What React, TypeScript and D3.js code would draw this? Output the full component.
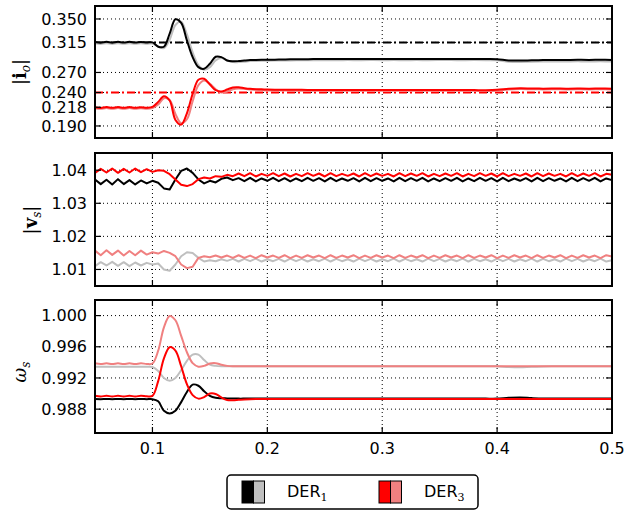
import React from "react";
import * as d3 from "d3";

// time grids (s)
const tCoarse = [
  ...d3.range(31).map((i) => 0.05 + i * 0.005),
  ...d3.range(30).map((i) => 0.21 + i * 0.01),
];
const tFine = d3.range(91).map((i) => 0.05 + i * 0.005);

const xTicks = [0.1, 0.2, 0.3, 0.4, 0.5];

// |i_o|
const ioTicks = [0.35, 0.315, 0.27, 0.24, 0.218, 0.19];
const ioRefs = [0.315, 0.24];
const ioDer1 = [
  0.3155, 0.3145, 0.3158, 0.3146, 0.3158, 0.3147, 0.3158, 0.3147, 0.3157, 0.3148, 0.315,
  0.3085, 0.3085, 0.328, 0.3495, 0.344, 0.318, 0.293, 0.278, 0.2755, 0.283, 0.2935, 0.293, 0.288, 0.2868, 0.287, 0.2878, 0.2885, 0.2888, 0.289, 0.289,
  0.2893, 0.2896, 0.2898, 0.29, 0.2901, 0.29, 0.2902, 0.2901, 0.2902, 0.29, 0.2902, 0.2901, 0.2902, 0.29, 0.2901, 0.2902, 0.29, 0.2901, 0.29, 0.2898,
  0.288, 0.2878, 0.2882, 0.2886, 0.2888, 0.2887, 0.2889, 0.2888, 0.2889, 0.2888,
];
const ioDer1Light = [
  0.3135, 0.3127, 0.3137, 0.3127, 0.3137, 0.3128, 0.3136, 0.3128, 0.3136, 0.3129, 0.3132,
  0.309, 0.3065, 0.319, 0.341, 0.346, 0.327, 0.3, 0.281, 0.274, 0.278, 0.288, 0.2915, 0.288, 0.2855, 0.2855, 0.2862, 0.287, 0.2873, 0.2875, 0.2876,
  0.2878, 0.288, 0.2882, 0.2883, 0.2884, 0.2883, 0.2885, 0.2884, 0.2885, 0.2884, 0.2885, 0.2884, 0.2885, 0.2884, 0.2885, 0.2885, 0.2884, 0.2885, 0.2884, 0.2882,
  0.2862, 0.2858, 0.286, 0.2863, 0.2865, 0.2864, 0.2866, 0.2865, 0.2866, 0.2865,
];
const ioDer3 = [
  0.218, 0.217, 0.2183, 0.2171, 0.2183, 0.2172, 0.2182, 0.2172, 0.2181, 0.2174, 0.2185,
  0.226, 0.2345, 0.228, 0.199, 0.192, 0.209, 0.238, 0.259, 0.2605, 0.252, 0.2435, 0.2415, 0.2445, 0.2475, 0.2478, 0.2465, 0.2455, 0.245, 0.2448, 0.2445,
  0.2442, 0.244, 0.244, 0.2439, 0.2438, 0.2439, 0.2438, 0.2437, 0.2438, 0.2437, 0.2438, 0.2437, 0.2436, 0.2437, 0.2436, 0.2437, 0.2436, 0.2436, 0.2435, 0.244,
  0.2455, 0.2463, 0.246, 0.2458, 0.2459, 0.2458, 0.2459, 0.2458, 0.2459, 0.2458,
];
const ioDer3Light = [
  0.2165, 0.2157, 0.2168, 0.2156, 0.2168, 0.2157, 0.2167, 0.2157, 0.2166, 0.2158, 0.2168,
  0.222, 0.2315, 0.229, 0.208, 0.194, 0.2, 0.227, 0.251, 0.258, 0.253, 0.245, 0.24, 0.2415, 0.2448, 0.246, 0.2455, 0.2447, 0.244, 0.2435, 0.2432,
  0.243, 0.2428, 0.2428, 0.2427, 0.2427, 0.2426, 0.2427, 0.2426, 0.2426, 0.2426, 0.2425, 0.2426, 0.2425, 0.2425, 0.2426, 0.2425, 0.2425, 0.2425, 0.2424, 0.2428,
  0.2445, 0.2452, 0.2449, 0.2447, 0.2448, 0.2447, 0.2448, 0.2447, 0.2448, 0.2447,
];

// |v_s|
const vsTicks = [1.04, 1.03, 1.02, 1.01];
const vsDer1 = [
  1.0372, 1.0358, 1.0371, 1.0357, 1.0373, 1.0358, 1.037, 1.0357, 1.0369, 1.036,
  1.0368, 1.0362, 1.0345, 1.0342, 1.0372, 1.0398, 1.0405, 1.0392, 1.0372, 1.036, 1.0368, 1.0363, 1.0374, 1.0378, 1.037,
  1.0376, 1.0367, 1.0377, 1.0366, 1.0375, 1.0368, 1.0377, 1.0367, 1.0376, 1.0366,
  1.0375, 1.0367, 1.0377, 1.0368, 1.0376, 1.0366, 1.0377, 1.0367, 1.0375, 1.0368,
  1.0376, 1.0366, 1.0377, 1.0367, 1.0376, 1.0368, 1.0375, 1.0366, 1.0377, 1.0367,
  1.0376, 1.0368, 1.0377, 1.0366, 1.0375, 1.0367, 1.0376, 1.0368, 1.0377, 1.0366,
  1.0375, 1.0367, 1.0377, 1.0368, 1.0376, 1.0366, 1.0377, 1.0367, 1.0375, 1.0368,
  1.0376, 1.0366, 1.0377, 1.0367, 1.0376, 1.0368, 1.0375, 1.0366, 1.0377, 1.0367,
  1.0376, 1.0368, 1.0377, 1.0366, 1.0375, 1.037,
];
const vsDer1Light = [
  1.011, 1.0122, 1.0112, 1.0123, 1.0111, 1.0122, 1.011, 1.0121, 1.0112, 1.012,
  1.0115, 1.0118, 1.01, 1.0096, 1.0115, 1.014, 1.0152, 1.015, 1.0135, 1.0124, 1.0128, 1.0125, 1.0131, 1.0126, 1.0132,
  1.0124, 1.0132, 1.0125, 1.0133, 1.0124, 1.0131, 1.0125, 1.0132, 1.0124, 1.0133,
  1.0125, 1.0132, 1.0124, 1.0131, 1.0125, 1.0133, 1.0124, 1.0132, 1.0125, 1.0131,
  1.0124, 1.0133, 1.0125, 1.0132, 1.0124, 1.0131, 1.0125, 1.0133, 1.0124, 1.0132,
  1.0125, 1.0131, 1.0124, 1.0133, 1.0125, 1.0132, 1.0124, 1.0131, 1.0125, 1.0133,
  1.0124, 1.0132, 1.0125, 1.0131, 1.0124, 1.0133, 1.0125, 1.0132, 1.0124, 1.0131,
  1.0125, 1.0133, 1.0124, 1.0132, 1.0125, 1.0131, 1.0124, 1.0133, 1.0125, 1.0132,
  1.0124, 1.0131, 1.0125, 1.0133, 1.0124, 1.0128,
];
const vsDer3 = [
  1.0392, 1.0404, 1.0393, 1.0405, 1.0392, 1.0404, 1.0393, 1.0405, 1.0394, 1.0403,
  1.0395, 1.04, 1.0398, 1.0388, 1.0372, 1.0356, 1.0352, 1.0358, 1.0373, 1.0378, 1.0375, 1.0382, 1.038, 1.0386, 1.0382,
  1.039, 1.0382, 1.0391, 1.0381, 1.0389, 1.0383, 1.0391, 1.0382, 1.039, 1.0381,
  1.0389, 1.0382, 1.0391, 1.0383, 1.039, 1.0381, 1.0391, 1.0382, 1.0389, 1.0383,
  1.039, 1.0381, 1.0391, 1.0382, 1.039, 1.0383, 1.0389, 1.0381, 1.0391, 1.0382,
  1.039, 1.0383, 1.0391, 1.0381, 1.0389, 1.0382, 1.039, 1.0383, 1.0391, 1.0381,
  1.0389, 1.0382, 1.0391, 1.0383, 1.039, 1.0381, 1.0391, 1.0382, 1.0389, 1.0383,
  1.039, 1.0381, 1.0391, 1.0382, 1.039, 1.0383, 1.0389, 1.0381, 1.0391, 1.0382,
  1.039, 1.0383, 1.0391, 1.0381, 1.0389, 1.0386,
];
const vsDer3Light = [
  1.0157, 1.0143, 1.0158, 1.0144, 1.0157, 1.0142, 1.0156, 1.0143, 1.0157, 1.0145,
  1.0152, 1.0148, 1.0156, 1.015, 1.014, 1.0115, 1.0104, 1.0108, 1.0135, 1.014, 1.0137, 1.0142, 1.0136, 1.0142, 1.0135,
  1.0143, 1.0135, 1.0142, 1.0134, 1.0143, 1.0136, 1.0142, 1.0135, 1.0143, 1.0134,
  1.0142, 1.0135, 1.0143, 1.0136, 1.0142, 1.0134, 1.0143, 1.0135, 1.0142, 1.0136,
  1.0143, 1.0134, 1.0142, 1.0135, 1.0143, 1.0136, 1.0142, 1.0134, 1.0143, 1.0135,
  1.0142, 1.0136, 1.0143, 1.0134, 1.0142, 1.0135, 1.0143, 1.0136, 1.0142, 1.0134,
  1.0143, 1.0135, 1.0142, 1.0136, 1.0143, 1.0134, 1.0142, 1.0135, 1.0143, 1.0136,
  1.0142, 1.0134, 1.0143, 1.0135, 1.0142, 1.0136, 1.0143, 1.0134, 1.0142, 1.0135,
  1.0143, 1.0136, 1.0142, 1.0134, 1.0143, 1.0139,
];

// omega_s
const wsTicks = [1.0, 0.996, 0.992, 0.988];
const wsDer1 = [
  0.9893, 0.98928, 0.9893, 0.98928, 0.9893, 0.98928, 0.9893, 0.98928, 0.9893, 0.98928, 0.98928,
  0.989, 0.9878, 0.98745, 0.9878, 0.9889, 0.9902, 0.99115, 0.991, 0.9903, 0.9897, 0.98945, 0.9894, 0.98938, 0.98936, 0.98935, 0.98935, 0.98935, 0.98935, 0.98935, 0.98935,
  0.98935, 0.98935, 0.98935, 0.98935, 0.98935, 0.98935, 0.98935, 0.98935, 0.98935, 0.98935, 0.98935, 0.98935, 0.98935, 0.98935, 0.98935, 0.98935, 0.98935, 0.98935, 0.98935, 0.98935,
  0.98945, 0.9895, 0.98942, 0.98936, 0.98935, 0.98935, 0.98935, 0.98935, 0.98935, 0.98935,
];
const wsDer1Light = [
  0.99345, 0.99343, 0.99345, 0.99343, 0.99345, 0.99343, 0.99345, 0.99343, 0.99345, 0.99343, 0.9934,
  0.9929, 0.992, 0.99165, 0.992, 0.993, 0.9942, 0.995, 0.995, 0.9943, 0.9937, 0.99355, 0.9935, 0.9935, 0.9935, 0.9935, 0.9935, 0.9935, 0.9935, 0.9935, 0.9935,
  0.9935, 0.9935, 0.9935, 0.9935, 0.9935, 0.9935, 0.9935, 0.9935, 0.9935, 0.9935, 0.9935, 0.9935, 0.9935, 0.9935, 0.9935, 0.9935, 0.9935, 0.9935, 0.9935, 0.9935,
  0.9934, 0.99336, 0.99344, 0.99348, 0.9935, 0.9935, 0.9935, 0.9935, 0.9935, 0.9935,
];
const wsDer3 = [
  0.98972, 0.98962, 0.98972, 0.98962, 0.98972, 0.98962, 0.98972, 0.98962, 0.98972, 0.98965, 0.9897,
  0.9916, 0.9945, 0.99595, 0.9955, 0.9935, 0.9912, 0.9898, 0.98935, 0.98955, 0.99, 0.98995, 0.9895, 0.98918, 0.98915, 0.9892, 0.98925, 0.98928, 0.9893, 0.9893, 0.9893,
  0.9893, 0.9893, 0.9893, 0.9893, 0.9893, 0.9893, 0.9893, 0.9893, 0.9893, 0.9893, 0.9893, 0.9893, 0.9893, 0.9893, 0.9893, 0.9893, 0.9893, 0.9893, 0.9893, 0.9893,
  0.9893, 0.9893, 0.9893, 0.9893, 0.9893, 0.9893, 0.9893, 0.9893, 0.9893, 0.9893,
];
const wsDer3Light = [
  0.99388, 0.99378, 0.99388, 0.99378, 0.99388, 0.99378, 0.99388, 0.99378, 0.99388, 0.9938, 0.99385,
  0.9955, 0.9985, 0.99995, 0.9994, 0.9974, 0.9953, 0.9939, 0.99345, 0.99355, 0.99385, 0.9939, 0.9937, 0.99355, 0.9935, 0.9935, 0.9935, 0.9935, 0.9935, 0.9935, 0.9935,
  0.9935, 0.9935, 0.9935, 0.9935, 0.9935, 0.9935, 0.9935, 0.9935, 0.9935, 0.9935, 0.9935, 0.9935, 0.9935, 0.9935, 0.9935, 0.9935, 0.9935, 0.9935, 0.9935, 0.9935,
  0.9935, 0.9935, 0.9935, 0.9935, 0.9935, 0.9935, 0.9935, 0.9935, 0.9935, 0.9935,
];

const legendNames = ["1", "3"];

const BLACK = "#000000";
const GRAY = "#bfbfbf";
const RED = "#ff0000";
const LIGHTRED = "#f08080";

const L = 95;
const R = 612;
const x = d3.scaleLinear().domain([0.05, 0.5]).range([L, R]);

type Series = { t: number[]; v: number[]; color: string };

function Panel(props: {
  top: number;
  bottom: number;
  domain: [number, number];
  ticks: number[];
  fmt: (d: number) => string;
  series: Series[];
  refs?: { v: number; color: string }[];
  curve: d3.CurveFactory;
  showX: boolean;
  label: React.ReactNode;
}) {
  const { top, bottom, domain, ticks, fmt, series, refs, curve, showX, label } = props;
  const y = d3.scaleLinear().domain(domain).range([bottom, top]);
  const line = d3
    .line<[number, number]>()
    .x((d) => x(d[0]))
    .y((d) => y(d[1]))
    .curve(curve);
  const tk = 6;
  return (
    <g>
      {/* grid */}
      {xTicks.slice(0, -1).map((t) => (
        <line key={"gx" + t} x1={x(t)} x2={x(t)} y1={top} y2={bottom} stroke="#000" strokeWidth={1} strokeDasharray="1,3" />
      ))}
      {ticks.map((v) => (
        <line key={"gy" + v} x1={L} x2={R} y1={y(v)} y2={y(v)} stroke="#000" strokeWidth={1} strokeDasharray="1,3" />
      ))}
      {refs &&
        refs.map((r) => (
          <line key={"r" + r.v} x1={L} x2={R} y1={y(r.v)} y2={y(r.v)} stroke={r.color} strokeWidth={2} strokeDasharray="8,3,2,3" />
        ))}
      {series.map((s, i) => (
        <path
          key={i}
          d={line(s.t.map((t, j) => [t, s.v[j]] as [number, number])) || ""}
          fill="none"
          stroke={s.color}
          strokeWidth={2}
          strokeLinejoin="round"
        />
      ))}
      <rect x={L} y={top} width={R - L} height={bottom - top} fill="none" stroke="#000" strokeWidth={2} />
      {xTicks.slice(0, -1).map((t) => (
        <g key={"tx" + t}>
          <line x1={x(t)} x2={x(t)} y1={bottom} y2={bottom - tk} stroke="#000" strokeWidth={1.2} />
          <line x1={x(t)} x2={x(t)} y1={top} y2={top + tk} stroke="#000" strokeWidth={1.2} />
        </g>
      ))}
      {ticks.map((v) => (
        <g key={"ty" + v}>
          <line x1={L} x2={L + tk} y1={y(v)} y2={y(v)} stroke="#000" strokeWidth={1.2} />
          <line x1={R} x2={R - tk} y1={y(v)} y2={y(v)} stroke="#000" strokeWidth={1.2} />
          <text x={L - 8} y={y(v)} dy="0.35em" textAnchor="end" fontSize={16} fontFamily="DejaVu Sans">
            {fmt(v)}
          </text>
        </g>
      ))}
      {showX &&
        xTicks.map((t) => (
          <text key={"lx" + t} x={x(t)} y={454} textAnchor="middle" fontSize={16} fontFamily="DejaVu Sans">
            {t}
          </text>
        ))}
      {label}
    </g>
  );
}

export default function App() {
  const f3 = d3.format(".3f");
  const f2 = d3.format(".2f");
  const math = "DejaVu Serif";
  return (
    <svg width={625} height={510} style={{ position: "absolute", left: 0, top: 0, background: "#fff" }}>
      <Panel
        top={6}
        bottom={138}
        domain={[0.172, 0.3694]}
        ticks={ioTicks}
        fmt={f3}
        curve={d3.curveCatmullRom}
        showX={false}
        refs={[
          { v: ioRefs[0], color: BLACK },
          { v: ioRefs[1], color: RED },
        ]}
        series={[
          { t: tCoarse, v: ioDer1Light, color: GRAY },
          { t: tCoarse, v: ioDer1, color: BLACK },
          { t: tCoarse, v: ioDer3Light, color: LIGHTRED },
          { t: tCoarse, v: ioDer3, color: RED },
        ]}
        label={
          <text transform="translate(26,72) rotate(-90)" textAnchor="middle" fontSize={18} fontFamily={math}>
            <tspan fontFamily="DejaVu Sans">|</tspan>
            <tspan fontWeight="bold">i</tspan>
            <tspan fontSize={12} fontStyle="italic" dy={4}>o</tspan>
            <tspan fontFamily="DejaVu Sans" dy={-4}>|</tspan>
          </text>
        }
      />
      <Panel
        top={153}
        bottom={286}
        domain={[1.005, 1.0452]}
        ticks={vsTicks}
        fmt={f2}
        curve={d3.curveLinear}
        showX={false}
        series={[
          { t: tFine, v: vsDer1Light, color: GRAY },
          { t: tFine, v: vsDer1, color: BLACK },
          { t: tFine, v: vsDer3Light, color: LIGHTRED },
          { t: tFine, v: vsDer3, color: RED },
        ]}
        label={
          <text transform="translate(37,220) rotate(-90)" textAnchor="middle" fontSize={18} fontFamily={math}>
            <tspan fontFamily="DejaVu Sans">|</tspan>
            <tspan fontWeight="bold">v</tspan>
            <tspan fontSize={12} fontStyle="italic" dy={4}>s</tspan>
            <tspan fontFamily="DejaVu Sans" dy={-4}>|</tspan>
          </text>
        }
      />
      <Panel
        top={300}
        bottom={433}
        domain={[0.98494, 1.002]}
        ticks={wsTicks}
        fmt={f3}
        curve={d3.curveCatmullRom}
        showX={true}
        series={[
          { t: tCoarse, v: wsDer1Light, color: GRAY },
          { t: tCoarse, v: wsDer1, color: BLACK },
          { t: tCoarse, v: wsDer3Light, color: LIGHTRED },
          { t: tCoarse, v: wsDer3, color: RED },
        ]}
        label={
          <text transform="translate(26,372) rotate(-90)" textAnchor="middle" fontSize={18} fontFamily={math}>
            <tspan fontStyle="italic">ω</tspan>
            <tspan fontSize={12} fontStyle="italic" dy={4}>s</tspan>
          </text>
        }
      />
      {/* legend */}
      <rect x={227} y={475} width={251} height={34} rx={4} fill="#fff" stroke="#000" strokeWidth={1.5} />
      {legendNames.map((n, i) => {
        const x0 = i === 0 ? 242 : 379;
        const c = i === 0 ? [BLACK, GRAY] : [RED, LIGHTRED];
        return (
          <g key={n}>
            <rect x={x0} y={481} width={11.5} height={22} fill={c[0]} stroke="#000" strokeWidth={1} />
            <rect x={x0 + 11.5} y={481} width={11} height={22} fill={c[1]} stroke="#000" strokeWidth={1} />
            <text x={x0 + 45} y={497} fontSize={16} fontFamily="DejaVu Sans">
              DER
              <tspan fontFamily={math} fontSize={11} dy={4}>{n}</tspan>
            </text>
          </g>
        );
      })}
    </svg>
  );
}
